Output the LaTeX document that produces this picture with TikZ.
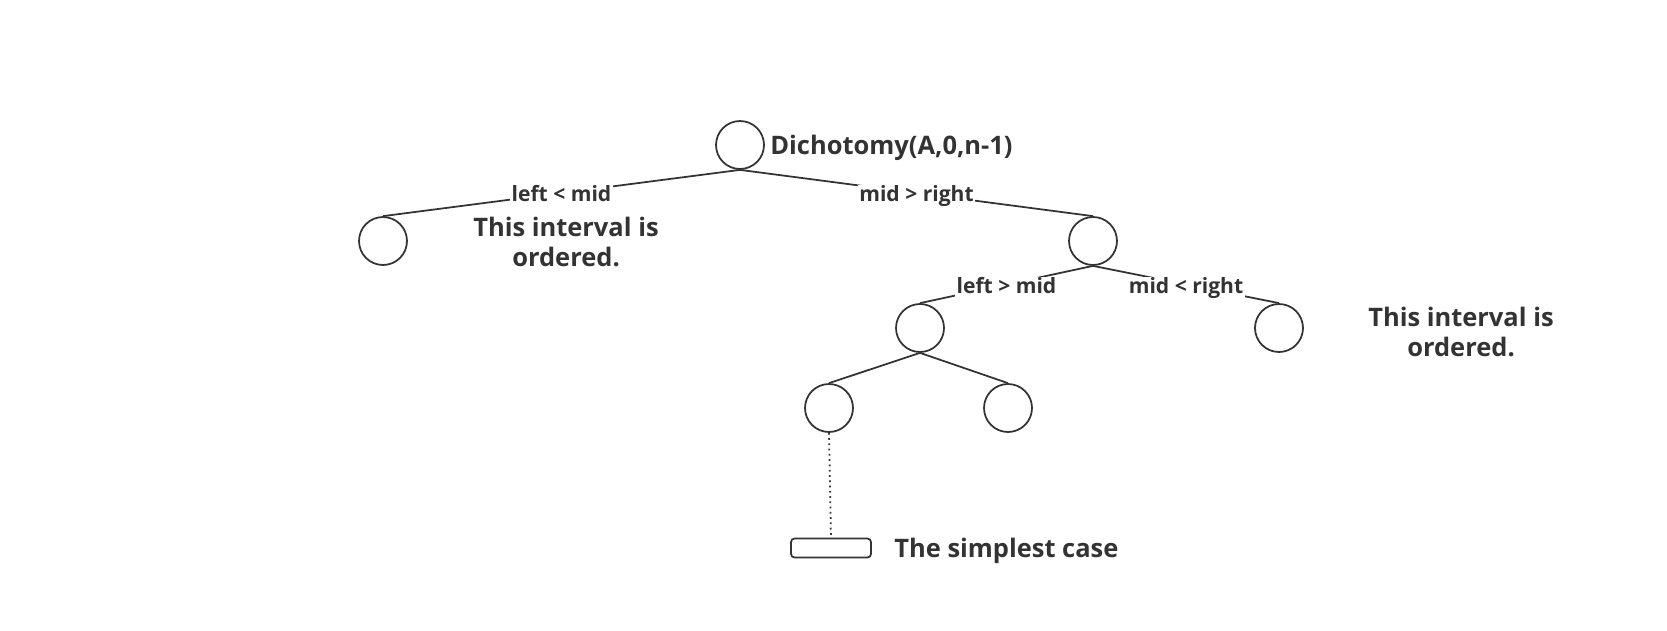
\documentclass[tikz,border=0pt]{standalone}
\usepackage{fontspec}
\setmainfont{Open Sans}
\usepackage{tikz}
\usetikzlibrary{positioning}
\definecolor{inkgray}{HTML}{333333}

\begin{document}
\begin{tikzpicture}[x=0.02cm, y=-0.02cm,
    every node/.style={text=inkgray},
    vertex/.style={draw=inkgray, line width=1pt, circle, minimum size=0.96cm, inner sep=0pt},
    cond/.style={fill=white, inner sep=1pt, yshift=-1.5pt, text height=1.55ex, text depth=0.3ex, font=\fontsize{12}{14}\selectfont\bfseries},
    note/.style={align=center, inner sep=0pt, font=\fontsize{14.5}{17.6}\selectfont\bfseries},
    edge/.style={draw=inkgray, line width=1pt}]
        % Fix the canvas
        \useasboundingbox (0,0) rectangle (1667,630);

        % Draw the nodes of the recursion tree
        \node[vertex] (root) at (740,145) {};
        \node[vertex] (lft) at (383,241) {};
        \node[vertex] (rgt) at (1093,241) {};
        \node[vertex] (rgtl) at (920,328) {};
        \node[vertex] (rgtr) at (1279,328) {};
        \node[vertex] (rgtll) at (829,408) {};
        \node[vertex] (rgtlr) at (1008,408) {};
        \node[draw=inkgray, line width=1pt, rounded corners=2pt, minimum width=1.6cm, minimum height=0.38cm, inner sep=0pt] (base) at (831,548) {};

        % Label the nodes
        \node[note, anchor=west] (rootlbl) at (770,148) {Dichotomy(A,0,n-1)};
        \node[note] (lftnote) at (566,242) {This interval is\\ordered.};
        \node[note] (rgtnote) at (1461,332) {This interval is\\ordered.};
        \node[note, anchor=west] (baselbl) at (894,551) {The simplest case};

        % Draw the branches with their conditions
        \draw[edge] (root.south) -- node[cond] {left < mid} (lft.north);
        \draw[edge] (root.south) -- node[cond] {mid > right} (rgt.north);
        \draw[edge] (rgt.south) -- node[cond] {left > mid} (rgtl.north);
        \draw[edge] (rgt.south) -- node[cond] {mid < right} (rgtr.north);
        \draw[edge] (rgtl.south) -- (rgtll.north);
        \draw[edge] (rgtl.south) -- (rgtlr.north);
        \draw[edge, dotted] (rgtll.south) -- (base.north);
    \end{tikzpicture}
\end{document}
